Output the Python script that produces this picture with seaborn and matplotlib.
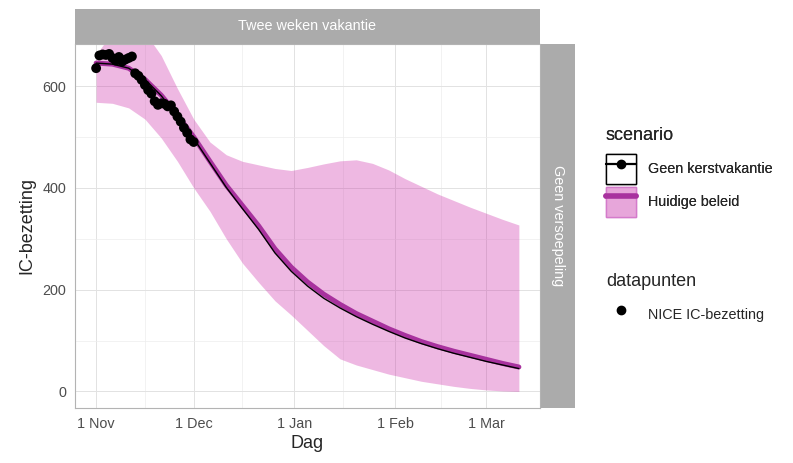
import matplotlib

matplotlib.use("Agg")
import matplotlib.dates as mdates  # noqa: E402
import matplotlib.pyplot as plt  # noqa: E402
import pandas as pd  # noqa: E402
import seaborn as sns  # noqa: E402
from matplotlib.legend_handler import HandlerTuple  # noqa: E402
from matplotlib.lines import Line2D  # noqa: E402
from matplotlib.patches import Patch, Rectangle  # noqa: E402
from matplotlib.ticker import FixedLocator, FuncFormatter, MultipleLocator  # noqa: E402

# ── Data ──────────────────────────────────────────────────────────────────────
START = pd.Timestamp("2020-11-01")

# model output, day offsets from 1 Nov
model_day = [0, 5, 10, 15, 20, 25, 30, 35, 40, 45, 50, 55, 60, 65,
             70, 75, 80, 85, 90, 95, 100, 105, 110, 115, 120, 125, 130]
huidige_beleid = [645, 643, 635, 613, 582, 543, 500, 452, 405, 365, 325, 280, 244, 215,
                  191, 171, 153, 138, 123, 110, 98, 88, 79, 71, 63, 55, 48]
geen_kerstvakantie = [645, 643, 635, 613, 581, 541, 497, 449, 401, 359, 318, 272, 236, 207,
                      183, 164, 147, 132, 118, 105, 94, 84, 75, 67, 59, 52, 45]
band_lower = [568, 566, 557, 535, 498, 452, 400, 354, 300, 252, 214, 178, 150, 120,
              90, 64, 52, 43, 34, 27, 20, 15, 10, 6, 3, 1, 0]
band_upper = [662, 705, 722, 705, 660, 595, 535, 490, 465, 452, 445, 438, 434, 440,
              447, 453, 455, 448, 435, 418, 403, 388, 375, 362, 350, 338, 327]

# NICE daily IC occupancy, 1 Nov .. 1 Dec
nice_day = list(range(0, 31))
nice_ic = [635, 660, 662, 661, 663, 655, 650, 657, 648, 652, 655, 658, 625, 620, 612,
           602, 592, 585, 570, 563, 566, 565, 560, 562, 550, 540, 530, 518, 508, 495, 490]

# ── Style ─────────────────────────────────────────────────────────────────────
RIBBON = "#CC2AA8"
RIBBON_KEY = "#E7A6DA"
KEY_EDGE = "#D47BCB"
MAGENTA = "#A8329E"
STRIP = "#ABABAB"
GRID = "#E2E2E2"
BORDER = "#B3B3B3"
TICK_TXT = "#4D4D4D"

sns.set_style("white")
plt.rcParams["font.family"] = ["Liberation Sans", "DejaVu Sans"]

W, H = 793, 463
fig = plt.figure(figsize=(W / 100, H / 100), dpi=100)
PL, PR, PT, PB = 75, 540, 44, 408
ax = fig.add_axes([PL / W, 1 - PB / H, (PR - PL) / W, (PB - PT) / H])

model_dates = START + pd.to_timedelta(model_day, unit="D")
nice_dates = START + pd.to_timedelta(nice_day, unit="D")

ax.fill_between(model_dates, band_lower, band_upper, color=RIBBON, alpha=0.33,
                lw=0, zorder=1)
sns.lineplot(x=model_dates, y=huidige_beleid, color=MAGENTA, lw=3.6, ax=ax, zorder=2)
sns.lineplot(x=model_dates, y=geen_kerstvakantie, color="black", lw=1.0, ax=ax, zorder=3)
sns.scatterplot(x=nice_dates, y=nice_ic, color="black", s=50, edgecolor="none",
                ax=ax, zorder=4)

ax.set_xlim(START - pd.Timedelta(days=6.5), START + pd.Timedelta(days=136.5))
ax.set_ylim(-32.5, 682.5)

# ── Axes ──────────────────────────────────────────────────────────────────────
ax.xaxis.set_major_locator(mdates.MonthLocator(bymonthday=1))
ax.xaxis.set_major_formatter(
    FuncFormatter(lambda v, _: f"{mdates.num2date(v).day} {mdates.num2date(v):%b}"))
minor_dates = pd.to_datetime(["2020-11-16", "2020-12-16", "2021-01-16", "2021-02-15"])
ax.xaxis.set_minor_locator(FixedLocator(mdates.date2num(minor_dates)))
ax.yaxis.set_major_locator(MultipleLocator(200))
ax.yaxis.set_minor_locator(MultipleLocator(100))

ax.grid(which="major", color=GRID, lw=0.7)
ax.grid(which="minor", color="#EDEDED", lw=0.5)
ax.set_axisbelow(True)
for sp in ax.spines.values():
    sp.set_color(BORDER)
    sp.set_linewidth(0.8)
ax.tick_params(which="major", length=3.5, width=0.6, color=BORDER,
               labelcolor=TICK_TXT, labelsize=10.4, pad=3)
ax.tick_params(which="minor", length=0)

ax.set_xlabel("Dag", fontsize=13, labelpad=3)
ax.set_ylabel("IC-bezetting", fontsize=13, labelpad=5)

# ── Facet strips ──────────────────────────────────────────────────────────────
fig.add_artist(Rectangle((PL / W, 1 - PT / H), (PR - PL) / W, 35 / H,
                         transform=fig.transFigure, color=STRIP, lw=0))
fig.text((PL + PR) / 2 / W, 1 - (PT - 17.5) / H, "Twee weken vakantie", color="white",
         fontsize=10.4, ha="center", va="center")
fig.add_artist(Rectangle((541 / W, 1 - PB / H), 34 / W, (PB - PT) / H,
                         transform=fig.transFigure, color=STRIP, lw=0))
fig.text(558 / W, 1 - (PT + PB) / 2 / H, "Geen versoepeling", color="white",
         fontsize=10.4, ha="center", va="center", rotation=-90)

# ── Legends ───────────────────────────────────────────────────────────────────
key_geen = (Patch(facecolor="white", edgecolor="black", lw=1.0),
            Line2D([], [], color="black", lw=1.6, marker="o", ms=6))
key_huidig = (Patch(facecolor=RIBBON_KEY, edgecolor=KEY_EDGE, lw=1.0),
              Line2D([], [], color=MAGENTA, lw=4))
leg_kw = dict(loc="upper left", frameon=False, fontsize=10.4, title_fontsize=13,
              handlelength=2.1, handleheight=2.9, labelspacing=0.15,
              handletextpad=0.8, borderpad=0, borderaxespad=0, alignment="left")
leg1 = fig.legend([key_geen, key_huidig], ["Geen kerstvakantie", "Huidige beleid"],
                  handler_map={tuple: HandlerTuple(ndivide=1, pad=0)},
                  title="scenario", bbox_to_anchor=(606 / W, 1 - 127 / H), **leg_kw)
leg1._legend_box.sep = 7
fig.add_artist(leg1)
leg2 = fig.legend([Line2D([], [], ls="none", marker="o", color="black", ms=6)],
                  ["NICE IC-bezetting"], title="datapunten",
                  bbox_to_anchor=(606 / W, 1 - 273 / H), **leg_kw)
leg2._legend_box.sep = 7

fig.savefig("out.png", dpi=100)
